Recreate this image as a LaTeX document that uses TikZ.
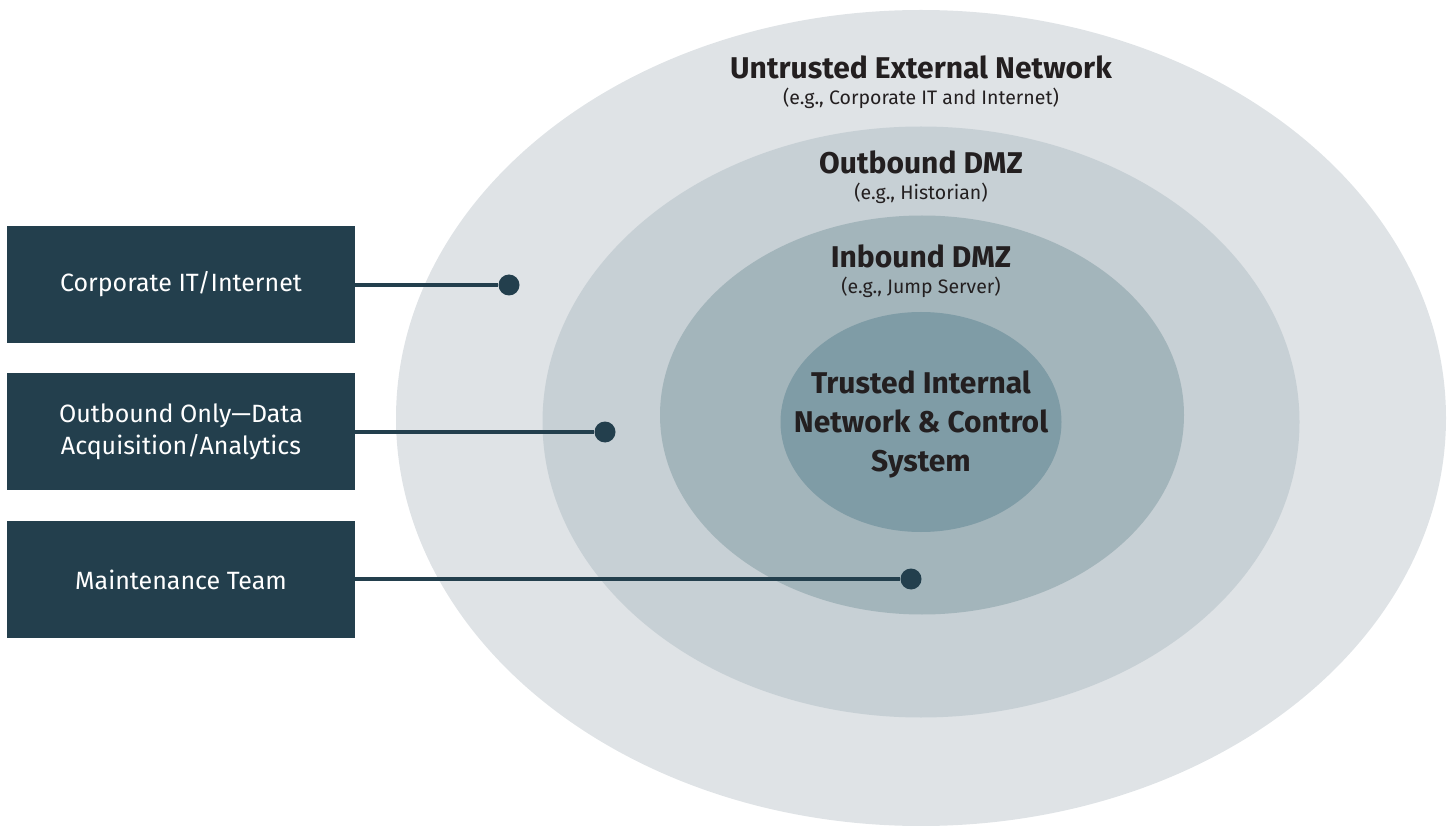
\documentclass[tikz,border=0pt]{standalone}
\usepackage{fontspec}
\setmainfont{Fira Sans}
\usetikzlibrary{positioning,shapes.geometric}
\definecolor{zoneA}{HTML}{DFE3E6}
\definecolor{zoneB}{HTML}{C7D0D5}
\definecolor{zoneC}{HTML}{A3B5BB}
\definecolor{zoneD}{HTML}{7F9CA6}
\definecolor{boxteal}{HTML}{233F4D}
\definecolor{inktxt}{HTML}{231F20}
\tikzset{
  zone/.style={ellipse,fill=#1,inner sep=0pt},
  srcbox/.style={rectangle,fill=boxteal,text=white,minimum width=348pt,
                 minimum height=117pt,align=center,font=\fontsize{25}{32}\selectfont},
  enddot/.style={circle,fill=boxteal,minimum size=21pt,inner sep=0pt},
  link/.style={boxteal,line width=4pt},
  zonetitle/.style={text=inktxt,font=\fontsize{30}{32}\selectfont\bfseries},
  zonenote/.style={text=inktxt,font=\fontsize{19.5}{22}\selectfont},
}

\begin{document}
\begin{tikzpicture}[x=1pt,y=-1pt]
\useasboundingbox (0,0) rectangle (1452,826);
\begin{scope}
\clip (0,0) rectangle (1452,826);
% Nested zones, outside in
\node[zone=zoneA,minimum width=1050pt,minimum height=816pt] (untrusted) at (921,418) {};
\node[zone=zoneB,minimum width=757pt,minimum height=591pt] (outdmz) at (921,422) {};
\node[zone=zoneC,minimum width=524pt,minimum height=399pt] (indmz) at (922,415) {};
\node[zone=zoneD,minimum width=281pt,minimum height=220pt] (trusted) at (921,422) {};
\end{scope}
% Zone labels
\node[zonetitle] (untrustedlbl) at (921,67) {Untrusted External Network};
\node[zonenote] (untrustednote) at (921,98) {(e.g., Corporate IT and Internet)};
\node[zonetitle] (outdmzlbl) at (921,162) {Outbound DMZ};
\node[zonenote] (outdmznote) at (921,193) {(e.g., Historian)};
\node[zonetitle] (indmzlbl) at (921,256) {Inbound DMZ};
\node[zonenote] (indmznote) at (921,287) {(e.g., Jump Server)};
\node[zonetitle,align=center,font=\fontsize{30}{39}\selectfont\bfseries] (trustedlbl) at (921,424)
  {Trusted Internal\\Network \& Control\\System};
% Source boxes on the left
\node[srcbox] (corp) at (181,284.5) {Corporate IT/Internet};
\node[srcbox] (outonly) at (181,431.5) {Outbound Only—Data\\Acquisition/Analytics};
\node[srcbox] (maint) at (181,579.5) {Maintenance Team};
% Entry points
\node[enddot] (corpdot) at (509,285) {};
\node[enddot] (outdot) at (605,432) {};
\node[enddot] (maintdot) at (911,579) {};
% Links
\draw[link] (corp.east |- corpdot) -- (corpdot);
\draw[link] (outonly.east |- outdot) -- (outdot);
\draw[link] (maint.east |- maintdot) -- (maintdot);
\end{tikzpicture}
\end{document}
